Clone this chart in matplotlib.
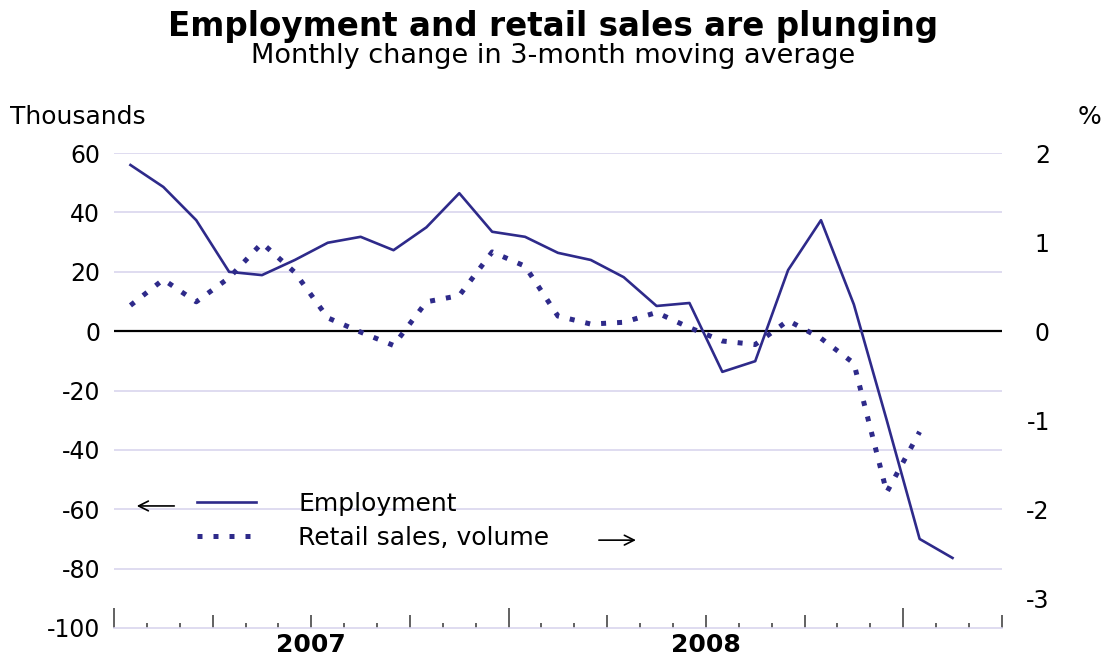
import numpy as np
import matplotlib
matplotlib.use("Agg")
import matplotlib.pyplot as plt
import matplotlib.transforms as mtransforms

plt.rcParams['font.family'] = ['DejaVu Sans']
plt.rcParams['axes.unicode_minus'] = False

# ========== 数据 ==========
years = ['2007', '2008']
n_months = 27
# Employment, monthly change in 3-month moving average (thousands, left axis)
employment = [56, 48.6, 37.4, 20, 18.9, 24, 29.8, 31.8, 27.3, 35, 46.5, 33.5, 31.8,
              26.4, 24, 18.2, 8.5, 9.5, -13.7, -10.1, 20.6, 37.4, 9, -30, -70, -76.4]
# Retail sales volume (%, right axis)
retail = [0.29, 0.58, 0.33, 0.6, 0.99, 0.66, 0.15, -0.01, -0.16, 0.33, 0.40, 0.89, 0.73,
          0.17, 0.08, 0.1, 0.21, 0.04, -0.11, -0.15, 0.12, -0.08, -0.36, -1.81, -1.13]

navy = '#2e2a8a'
grid_col = '#d9d5ee'

fig = plt.figure(figsize=(11.07, 6.6), dpi=100)
ax = fig.add_axes([0.103, 0.0485, 0.802, 0.7195])
ax2 = ax.twinx()

x_emp = np.arange(len(employment)) + 0.5
x_ret = np.arange(len(retail)) + 0.5

# 网格线
for v in range(-80, 61, 20):
    if v == 0:
        ax.axhline(0, color='black', lw=1.6, zorder=2)
    else:
        ax.axhline(v, color=grid_col, lw=1.2, zorder=1)

l1, = ax.plot(x_emp, employment, color=navy, lw=1.9, zorder=4, label='Employment')
l2, = ax2.plot(x_ret, retail, color=navy, lw=3.6, linestyle=(0, (1, 2.2)),
               zorder=4, label='Retail sales, volume')

ax.set_xlim(0, n_months)
ax.set_ylim(-100, 60)
ax2.set_ylim(-100 / 30, 2)

# 坐标轴样式
for a in (ax, ax2):
    for s in ['top', 'left', 'right']:
        a.spines[s].set_visible(False)
ax.spines['bottom'].set_color(grid_col)
ax.spines['bottom'].set_linewidth(1.2)
ax2.spines['bottom'].set_visible(False)

ax.set_yticks(range(-100, 61, 20))
ax.tick_params(axis='y', length=0, pad=10, labelsize=17)
ax2.set_yticks(range(-3, 3))
ax2.tick_params(axis='y', length=0, pad=34.5, labelsize=17)
for lab in ax2.get_yticklabels():
    lab.set_horizontalalignment('right')

ax.set_xticks(range(0, n_months + 1, 3))
ax.set_xticks(range(0, n_months + 1), minor=True)
ax.set_xticklabels([])
ax.tick_params(axis='x', which='major', direction='in', length=9.5, width=1.3, color='#555555')
ax.tick_params(axis='x', which='minor', direction='in', length=3.6, width=1.3, color='#555555')
for t in ax.xaxis.get_major_ticks():
    if t.get_loc() % 12 == 0:
        t.tick1line.set_markersize(14.5)

trans = mtransforms.blended_transform_factory(ax.transData, ax.transAxes)
for i, y in enumerate(years):
    ax.text(6 + 12 * i, -0.035, y, transform=trans, ha='center', va='center',
            fontsize=18, fontweight='bold')

# 标题
fig.text(0.5, 0.960, 'Employment and retail sales are plunging', ha='center', va='center',
         fontsize=23.5, fontweight='bold')
fig.text(0.5, 0.915, 'Monthly change in 3-month moving average', ha='center', va='center',
         fontsize=19.5)
fig.text(0.009, 0.822, 'Thousands', ha='left', va='center', fontsize=18)
fig.text(0.995, 0.822, '%', ha='right', va='center', fontsize=18)

# 图例
ax.legend(handles=[l1, l2], loc='upper left', bbox_to_anchor=(0.0935, 0.287),
          frameon=False, fontsize=18, handlelength=2.36, handletextpad=1.68,
          labelspacing=0.42, borderpad=0, borderaxespad=0)
arrow = dict(arrowstyle='->, head_length=0.7, head_width=0.35', lw=1.2, color='black')
ax.annotate('', xy=(0.0225, 0.257), xytext=(0.071, 0.257), xycoords='axes fraction',
            arrowprops=arrow)
ax.annotate('', xy=(0.591, 0.185), xytext=(0.543, 0.185), xycoords='axes fraction',
            arrowprops=arrow)

fig.savefig('out.png', dpi=100)
